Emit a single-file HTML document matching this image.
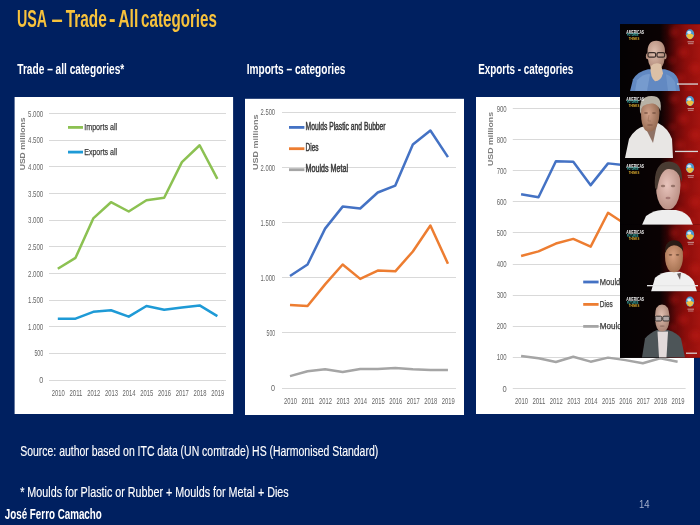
<!DOCTYPE html>
<html><head><meta charset="utf-8"><style>
html,body{margin:0;padding:0;background:#002060;width:700px;height:525px;overflow:hidden}
svg{display:block;filter:blur(0.4px)}
text{font-family:"Liberation Sans", sans-serif}
</style></head><body>
<svg width="700" height="525" viewBox="0 0 700 525">
<defs><linearGradient id="redg" x1="0" x2="80" y1="0" y2="0" gradientUnits="userSpaceOnUse">
<stop offset="0" stop-color="#040203"/><stop offset="0.5" stop-color="#0a0203"/><stop offset="0.6" stop-color="#300405"/><stop offset="0.7" stop-color="#680909"/><stop offset="0.82" stop-color="#8c0e0c"/><stop offset="1" stop-color="#a41410"/></linearGradient>
<filter id="bl" x="-50%" y="-50%" width="200%" height="200%"><feGaussianBlur stdDeviation="2.8"/></filter>
<filter id="bl1" x="-20%" y="-20%" width="140%" height="140%"><feGaussianBlur stdDeviation="0.7"/></filter>
<clipPath id="tileclip"><rect x="0" y="0" width="80" height="67"/></clipPath><radialGradient id="sk1" cx="0.4" cy="0.4" r="0.7"><stop offset="0" stop-color="#e0c0b0"/><stop offset="1" stop-color="#a88070"/></radialGradient>
<radialGradient id="sk2" cx="0.4" cy="0.45" r="0.7"><stop offset="0" stop-color="#d0a088"/><stop offset="1" stop-color="#8a6048"/></radialGradient>
<radialGradient id="sk3" cx="0.45" cy="0.45" r="0.7"><stop offset="0" stop-color="#e8c4bc"/><stop offset="1" stop-color="#b08478"/></radialGradient>
<radialGradient id="sk4" cx="0.45" cy="0.45" r="0.7"><stop offset="0" stop-color="#d8a080"/><stop offset="1" stop-color="#9a6848"/></radialGradient>
<radialGradient id="sk5" cx="0.45" cy="0.4" r="0.7"><stop offset="0" stop-color="#e0beb0"/><stop offset="1" stop-color="#a07a6a"/></radialGradient></defs>
<rect width="700" height="525" fill="#002060"/>
<text x="17.0" y="26.5" font-size="23.4" fill="#f7c23c" text-anchor="start" font-weight="bold" textLength="30.1" lengthAdjust="spacingAndGlyphs" >USA</text>
<text x="51.6" y="26.5" font-size="23.4" fill="#f7c23c" text-anchor="start" font-weight="bold" textLength="11.2" lengthAdjust="spacingAndGlyphs" >–</text>
<text x="65.69999999999999" y="26.5" font-size="23.4" fill="#f7c23c" text-anchor="start" font-weight="bold" textLength="41.1" lengthAdjust="spacingAndGlyphs" >Trade</text>
<text x="109.1" y="26.5" font-size="23.4" fill="#f7c23c" text-anchor="start" font-weight="bold" textLength="6.5" lengthAdjust="spacingAndGlyphs" >-</text>
<text x="118.19999999999999" y="26.5" font-size="23.4" fill="#f7c23c" text-anchor="start" font-weight="bold" textLength="20.1" lengthAdjust="spacingAndGlyphs" >All</text>
<text x="141.1" y="26.5" font-size="23.4" fill="#f7c23c" text-anchor="start" font-weight="bold" textLength="75.8" lengthAdjust="spacingAndGlyphs" >categories</text>
<text x="17.3" y="74" font-size="14.6" fill="#ffffff" text-anchor="start" font-weight="bold" textLength="107" lengthAdjust="spacingAndGlyphs" >Trade – all categories*</text>
<text x="246.7" y="74" font-size="14.6" fill="#ffffff" text-anchor="start" font-weight="bold" textLength="98.7" lengthAdjust="spacingAndGlyphs" >Imports – categories</text>
<text x="478.2" y="74" font-size="14.6" fill="#ffffff" text-anchor="start" font-weight="bold" textLength="95.1" lengthAdjust="spacingAndGlyphs" >Exports - categories</text>
<rect x="14.6" y="97" width="218.5" height="317" fill="#ffffff"/>
<line x1="49" y1="380.50" x2="226" y2="380.50" stroke="#d9d9d9" stroke-width="1.1"/>
<text x="43.2" y="383.1" font-size="9.4" fill="#666666" text-anchor="end" font-weight="normal" textLength="4" lengthAdjust="spacingAndGlyphs" >0</text>
<line x1="49" y1="353.50" x2="226" y2="353.50" stroke="#d9d9d9" stroke-width="1.1"/>
<text x="43.2" y="356.47" font-size="9.4" fill="#666666" text-anchor="end" font-weight="normal" textLength="8.8" lengthAdjust="spacingAndGlyphs" >500</text>
<line x1="49" y1="326.50" x2="226" y2="326.50" stroke="#d9d9d9" stroke-width="1.1"/>
<text x="43.2" y="329.84000000000003" font-size="9.4" fill="#666666" text-anchor="end" font-weight="normal" textLength="15.2" lengthAdjust="spacingAndGlyphs" >1.000</text>
<line x1="49" y1="300.50" x2="226" y2="300.50" stroke="#d9d9d9" stroke-width="1.1"/>
<text x="43.2" y="303.21000000000004" font-size="9.4" fill="#666666" text-anchor="end" font-weight="normal" textLength="15.2" lengthAdjust="spacingAndGlyphs" >1.500</text>
<line x1="49" y1="273.50" x2="226" y2="273.50" stroke="#d9d9d9" stroke-width="1.1"/>
<text x="43.2" y="276.58000000000004" font-size="9.4" fill="#666666" text-anchor="end" font-weight="normal" textLength="15.2" lengthAdjust="spacingAndGlyphs" >2.000</text>
<line x1="49" y1="246.50" x2="226" y2="246.50" stroke="#d9d9d9" stroke-width="1.1"/>
<text x="43.2" y="249.95" font-size="9.4" fill="#666666" text-anchor="end" font-weight="normal" textLength="15.2" lengthAdjust="spacingAndGlyphs" >2.500</text>
<line x1="49" y1="220.50" x2="226" y2="220.50" stroke="#d9d9d9" stroke-width="1.1"/>
<text x="43.2" y="223.32" font-size="9.4" fill="#666666" text-anchor="end" font-weight="normal" textLength="15.2" lengthAdjust="spacingAndGlyphs" >3.000</text>
<line x1="49" y1="193.50" x2="226" y2="193.50" stroke="#d9d9d9" stroke-width="1.1"/>
<text x="43.2" y="196.69" font-size="9.4" fill="#666666" text-anchor="end" font-weight="normal" textLength="15.2" lengthAdjust="spacingAndGlyphs" >3.500</text>
<line x1="49" y1="166.50" x2="226" y2="166.50" stroke="#d9d9d9" stroke-width="1.1"/>
<text x="43.2" y="170.05999999999997" font-size="9.4" fill="#666666" text-anchor="end" font-weight="normal" textLength="15.2" lengthAdjust="spacingAndGlyphs" >4.000</text>
<line x1="49" y1="140.50" x2="226" y2="140.50" stroke="#d9d9d9" stroke-width="1.1"/>
<text x="43.2" y="143.42999999999998" font-size="9.4" fill="#666666" text-anchor="end" font-weight="normal" textLength="15.2" lengthAdjust="spacingAndGlyphs" >4.500</text>
<line x1="49" y1="113.50" x2="226" y2="113.50" stroke="#d9d9d9" stroke-width="1.1"/>
<text x="43.2" y="116.79999999999998" font-size="9.4" fill="#666666" text-anchor="end" font-weight="normal" textLength="15.2" lengthAdjust="spacingAndGlyphs" >5.000</text>
<text x="58.199999999999996" y="395.6" font-size="9.0" fill="#666666" text-anchor="middle" font-weight="normal" textLength="13" lengthAdjust="spacingAndGlyphs" >2010</text>
<text x="75.93" y="395.6" font-size="9.0" fill="#666666" text-anchor="middle" font-weight="normal" textLength="13" lengthAdjust="spacingAndGlyphs" >2011</text>
<text x="93.66" y="395.6" font-size="9.0" fill="#666666" text-anchor="middle" font-weight="normal" textLength="13" lengthAdjust="spacingAndGlyphs" >2012</text>
<text x="111.39" y="395.6" font-size="9.0" fill="#666666" text-anchor="middle" font-weight="normal" textLength="13" lengthAdjust="spacingAndGlyphs" >2013</text>
<text x="129.12" y="395.6" font-size="9.0" fill="#666666" text-anchor="middle" font-weight="normal" textLength="13" lengthAdjust="spacingAndGlyphs" >2014</text>
<text x="146.85" y="395.6" font-size="9.0" fill="#666666" text-anchor="middle" font-weight="normal" textLength="13" lengthAdjust="spacingAndGlyphs" >2015</text>
<text x="164.58" y="395.6" font-size="9.0" fill="#666666" text-anchor="middle" font-weight="normal" textLength="13" lengthAdjust="spacingAndGlyphs" >2016</text>
<text x="182.31" y="395.6" font-size="9.0" fill="#666666" text-anchor="middle" font-weight="normal" textLength="13" lengthAdjust="spacingAndGlyphs" >2017</text>
<text x="200.04" y="395.6" font-size="9.0" fill="#666666" text-anchor="middle" font-weight="normal" textLength="13" lengthAdjust="spacingAndGlyphs" >2018</text>
<text x="217.77" y="395.6" font-size="9.0" fill="#666666" text-anchor="middle" font-weight="normal" textLength="13" lengthAdjust="spacingAndGlyphs" >2019</text>
<polyline points="57.80,268.79 75.53,257.82 93.26,218.41 110.99,202.22 128.72,211.49 146.45,200.19 164.18,197.80 181.91,162.11 199.64,145.28 217.37,178.89" fill="none" stroke="#8cc152" stroke-width="2.5" stroke-linejoin="round"/>
<polyline points="57.80,318.75 75.53,318.64 93.26,311.83 110.99,310.23 128.72,316.62 146.45,305.97 164.18,309.70 181.91,307.57 199.64,305.44 217.37,316.09" fill="none" stroke="#1e9ad6" stroke-width="2.5" stroke-linejoin="round"/>
<line x1="68" y1="127.39999999999999" x2="83" y2="127.39999999999999" stroke="#8cc152" stroke-width="2.8"/>
<text x="84.2" y="130.0" font-size="9.8" fill="#3a3a3a" text-anchor="start" font-weight="normal" textLength="33" lengthAdjust="spacingAndGlyphs" stroke="#3a3a3a" stroke-width="0.25">Imports all</text>
<line x1="68" y1="152.1" x2="83" y2="152.1" stroke="#1e9ad6" stroke-width="2.8"/>
<text x="84.2" y="154.7" font-size="9.8" fill="#3a3a3a" text-anchor="start" font-weight="normal" textLength="33" lengthAdjust="spacingAndGlyphs" stroke="#3a3a3a" stroke-width="0.25">Exports all</text>
<text transform="translate(25.3,170.3) rotate(-90)" x="0" y="0" font-size="8.0" fill="#7c7c7c" font-weight="bold" textLength="52.80000000000001" lengthAdjust="spacingAndGlyphs">USD millions</text>
<rect x="245" y="98.8" width="219" height="316.2" fill="#ffffff"/>
<line x1="282" y1="388.50" x2="456" y2="388.50" stroke="#d9d9d9" stroke-width="1.1"/>
<text x="275.1" y="390.9" font-size="9.4" fill="#666666" text-anchor="end" font-weight="normal" textLength="4" lengthAdjust="spacingAndGlyphs" >0</text>
<line x1="282" y1="332.50" x2="456" y2="332.50" stroke="#d9d9d9" stroke-width="1.1"/>
<text x="275.1" y="335.79999999999995" font-size="9.4" fill="#666666" text-anchor="end" font-weight="normal" textLength="8.5" lengthAdjust="spacingAndGlyphs" >500</text>
<line x1="282" y1="277.50" x2="456" y2="277.50" stroke="#d9d9d9" stroke-width="1.1"/>
<text x="275.1" y="280.7" font-size="9.4" fill="#666666" text-anchor="end" font-weight="normal" textLength="14.5" lengthAdjust="spacingAndGlyphs" >1.000</text>
<line x1="282" y1="222.50" x2="456" y2="222.50" stroke="#d9d9d9" stroke-width="1.1"/>
<text x="275.1" y="225.6" font-size="9.4" fill="#666666" text-anchor="end" font-weight="normal" textLength="14.5" lengthAdjust="spacingAndGlyphs" >1.500</text>
<line x1="282" y1="167.50" x2="456" y2="167.50" stroke="#d9d9d9" stroke-width="1.1"/>
<text x="275.1" y="170.5" font-size="9.4" fill="#666666" text-anchor="end" font-weight="normal" textLength="14.5" lengthAdjust="spacingAndGlyphs" >2.000</text>
<line x1="282" y1="112.50" x2="456" y2="112.50" stroke="#d9d9d9" stroke-width="1.1"/>
<text x="275.1" y="115.4" font-size="9.4" fill="#666666" text-anchor="end" font-weight="normal" textLength="14.5" lengthAdjust="spacingAndGlyphs" >2.500</text>
<text x="290.4" y="403.6" font-size="9.0" fill="#666666" text-anchor="middle" font-weight="normal" textLength="13" lengthAdjust="spacingAndGlyphs" >2010</text>
<text x="307.95" y="403.6" font-size="9.0" fill="#666666" text-anchor="middle" font-weight="normal" textLength="13" lengthAdjust="spacingAndGlyphs" >2011</text>
<text x="325.5" y="403.6" font-size="9.0" fill="#666666" text-anchor="middle" font-weight="normal" textLength="13" lengthAdjust="spacingAndGlyphs" >2012</text>
<text x="343.04999999999995" y="403.6" font-size="9.0" fill="#666666" text-anchor="middle" font-weight="normal" textLength="13" lengthAdjust="spacingAndGlyphs" >2013</text>
<text x="360.59999999999997" y="403.6" font-size="9.0" fill="#666666" text-anchor="middle" font-weight="normal" textLength="13" lengthAdjust="spacingAndGlyphs" >2014</text>
<text x="378.15" y="403.6" font-size="9.0" fill="#666666" text-anchor="middle" font-weight="normal" textLength="13" lengthAdjust="spacingAndGlyphs" >2015</text>
<text x="395.7" y="403.6" font-size="9.0" fill="#666666" text-anchor="middle" font-weight="normal" textLength="13" lengthAdjust="spacingAndGlyphs" >2016</text>
<text x="413.25" y="403.6" font-size="9.0" fill="#666666" text-anchor="middle" font-weight="normal" textLength="13" lengthAdjust="spacingAndGlyphs" >2017</text>
<text x="430.79999999999995" y="403.6" font-size="9.0" fill="#666666" text-anchor="middle" font-weight="normal" textLength="13" lengthAdjust="spacingAndGlyphs" >2018</text>
<text x="448.35" y="403.6" font-size="9.0" fill="#666666" text-anchor="middle" font-weight="normal" textLength="13" lengthAdjust="spacingAndGlyphs" >2019</text>
<polyline points="290.00,275.93 307.55,264.47 325.10,228.65 342.65,206.61 360.20,208.48 377.75,192.51 395.30,185.56 412.85,144.46 430.40,130.46 447.95,157.13" fill="none" stroke="#4472c4" stroke-width="2.5" stroke-linejoin="round"/>
<polyline points="290.00,304.91 307.55,306.01 325.10,284.41 342.65,264.47 360.20,278.90 377.75,270.53 395.30,271.30 412.85,251.46 430.40,225.57 447.95,263.69" fill="none" stroke="#ed7d31" stroke-width="2.5" stroke-linejoin="round"/>
<polyline points="290.00,376.10 307.55,371.25 325.10,369.27 342.65,372.02 360.20,368.94 377.75,368.94 395.30,367.94 412.85,369.27 430.40,369.93 447.95,369.93" fill="none" stroke="#a5a5a5" stroke-width="2.5" stroke-linejoin="round"/>
<line x1="289" y1="127.39999999999999" x2="304.4" y2="127.39999999999999" stroke="#4472c4" stroke-width="2.8"/>
<text x="305.59999999999997" y="130.1" font-size="10.6" fill="#3a3a3a" text-anchor="start" font-weight="normal" textLength="80" lengthAdjust="spacingAndGlyphs" stroke="#3a3a3a" stroke-width="0.5">Moulds Plastic and Bubber</text>
<line x1="289" y1="148.7" x2="304.4" y2="148.7" stroke="#ed7d31" stroke-width="2.8"/>
<text x="305.59999999999997" y="151.4" font-size="10.6" fill="#3a3a3a" text-anchor="start" font-weight="normal" textLength="13" lengthAdjust="spacingAndGlyphs" stroke="#3a3a3a" stroke-width="0.5">Dies</text>
<line x1="289" y1="169.7" x2="304.4" y2="169.7" stroke="#a5a5a5" stroke-width="2.8"/>
<text x="305.59999999999997" y="172.4" font-size="10.6" fill="#3a3a3a" text-anchor="start" font-weight="normal" textLength="42.5" lengthAdjust="spacingAndGlyphs" stroke="#3a3a3a" stroke-width="0.5">Moulds Metal</text>
<text transform="translate(258,169.9) rotate(-90)" x="0" y="0" font-size="8.0" fill="#7c7c7c" font-weight="bold" textLength="55.5" lengthAdjust="spacingAndGlyphs">USD millions</text>
<rect x="476" y="97" width="218" height="317" fill="#ffffff"/>
<line x1="512.8" y1="388.50" x2="685.6" y2="388.50" stroke="#d9d9d9" stroke-width="1.1"/>
<text x="506.7" y="391.5" font-size="9.4" fill="#666666" text-anchor="end" font-weight="normal" textLength="4.2" lengthAdjust="spacingAndGlyphs" >0</text>
<line x1="512.8" y1="357.50" x2="685.6" y2="357.50" stroke="#d9d9d9" stroke-width="1.1"/>
<text x="506.7" y="360.42" font-size="9.4" fill="#666666" text-anchor="end" font-weight="normal" textLength="10.0" lengthAdjust="spacingAndGlyphs" >100</text>
<line x1="512.8" y1="326.50" x2="685.6" y2="326.50" stroke="#d9d9d9" stroke-width="1.1"/>
<text x="506.7" y="329.34" font-size="9.4" fill="#666666" text-anchor="end" font-weight="normal" textLength="10.0" lengthAdjust="spacingAndGlyphs" >200</text>
<line x1="512.8" y1="295.50" x2="685.6" y2="295.50" stroke="#d9d9d9" stroke-width="1.1"/>
<text x="506.7" y="298.26" font-size="9.4" fill="#666666" text-anchor="end" font-weight="normal" textLength="10.0" lengthAdjust="spacingAndGlyphs" >300</text>
<line x1="512.8" y1="264.50" x2="685.6" y2="264.50" stroke="#d9d9d9" stroke-width="1.1"/>
<text x="506.7" y="267.18" font-size="9.4" fill="#666666" text-anchor="end" font-weight="normal" textLength="10.0" lengthAdjust="spacingAndGlyphs" >400</text>
<line x1="512.8" y1="232.50" x2="685.6" y2="232.50" stroke="#d9d9d9" stroke-width="1.1"/>
<text x="506.7" y="236.09999999999997" font-size="9.4" fill="#666666" text-anchor="end" font-weight="normal" textLength="10.0" lengthAdjust="spacingAndGlyphs" >500</text>
<line x1="512.8" y1="201.50" x2="685.6" y2="201.50" stroke="#d9d9d9" stroke-width="1.1"/>
<text x="506.7" y="205.01999999999995" font-size="9.4" fill="#666666" text-anchor="end" font-weight="normal" textLength="10.0" lengthAdjust="spacingAndGlyphs" >600</text>
<line x1="512.8" y1="170.50" x2="685.6" y2="170.50" stroke="#d9d9d9" stroke-width="1.1"/>
<text x="506.7" y="173.93999999999997" font-size="9.4" fill="#666666" text-anchor="end" font-weight="normal" textLength="10.0" lengthAdjust="spacingAndGlyphs" >700</text>
<line x1="512.8" y1="139.50" x2="685.6" y2="139.50" stroke="#d9d9d9" stroke-width="1.1"/>
<text x="506.7" y="142.85999999999996" font-size="9.4" fill="#666666" text-anchor="end" font-weight="normal" textLength="10.0" lengthAdjust="spacingAndGlyphs" >800</text>
<line x1="512.8" y1="108.50" x2="685.6" y2="108.50" stroke="#d9d9d9" stroke-width="1.1"/>
<text x="506.7" y="111.77999999999994" font-size="9.4" fill="#666666" text-anchor="end" font-weight="normal" textLength="10.0" lengthAdjust="spacingAndGlyphs" >900</text>
<text x="521.5" y="404.0" font-size="9.0" fill="#666666" text-anchor="middle" font-weight="normal" textLength="13" lengthAdjust="spacingAndGlyphs" >2010</text>
<text x="538.89" y="404.0" font-size="9.0" fill="#666666" text-anchor="middle" font-weight="normal" textLength="13" lengthAdjust="spacingAndGlyphs" >2011</text>
<text x="556.28" y="404.0" font-size="9.0" fill="#666666" text-anchor="middle" font-weight="normal" textLength="13" lengthAdjust="spacingAndGlyphs" >2012</text>
<text x="573.67" y="404.0" font-size="9.0" fill="#666666" text-anchor="middle" font-weight="normal" textLength="13" lengthAdjust="spacingAndGlyphs" >2013</text>
<text x="591.0600000000001" y="404.0" font-size="9.0" fill="#666666" text-anchor="middle" font-weight="normal" textLength="13" lengthAdjust="spacingAndGlyphs" >2014</text>
<text x="608.45" y="404.0" font-size="9.0" fill="#666666" text-anchor="middle" font-weight="normal" textLength="13" lengthAdjust="spacingAndGlyphs" >2015</text>
<text x="625.84" y="404.0" font-size="9.0" fill="#666666" text-anchor="middle" font-weight="normal" textLength="13" lengthAdjust="spacingAndGlyphs" >2016</text>
<text x="643.23" y="404.0" font-size="9.0" fill="#666666" text-anchor="middle" font-weight="normal" textLength="13" lengthAdjust="spacingAndGlyphs" >2017</text>
<text x="660.62" y="404.0" font-size="9.0" fill="#666666" text-anchor="middle" font-weight="normal" textLength="13" lengthAdjust="spacingAndGlyphs" >2018</text>
<text x="678.01" y="404.0" font-size="9.0" fill="#666666" text-anchor="middle" font-weight="normal" textLength="13" lengthAdjust="spacingAndGlyphs" >2019</text>
<polyline points="521.10,194.15 538.49,197.26 555.88,161.21 573.27,161.83 590.66,185.14 608.05,163.38 625.44,165.25 642.83,165.87 660.22,167.11 677.61,170.84" fill="none" stroke="#4472c4" stroke-width="2.5" stroke-linejoin="round"/>
<polyline points="521.10,256.00 538.49,251.34 555.88,243.57 573.27,238.91 590.66,246.68 608.05,212.80 625.44,224.30 642.83,226.78 660.22,228.34 677.61,229.89" fill="none" stroke="#ed7d31" stroke-width="2.5" stroke-linejoin="round"/>
<polyline points="521.10,355.89 538.49,358.25 555.88,361.98 573.27,356.70 590.66,361.67 608.05,357.63 625.44,360.12 642.83,363.23 660.22,358.25 677.61,361.67" fill="none" stroke="#a5a5a5" stroke-width="2.5" stroke-linejoin="round"/>
<line x1="583.2" y1="282.0" x2="598.6" y2="282.0" stroke="#4472c4" stroke-width="2.8"/>
<text x="599.8000000000001" y="284.59999999999997" font-size="9.8" fill="#3a3a3a" text-anchor="start" font-weight="normal" textLength="90" lengthAdjust="spacingAndGlyphs" stroke="#3a3a3a" stroke-width="0.25">Moulds Plastic and Rubber</text>
<line x1="583.2" y1="304.40000000000003" x2="598.6" y2="304.40000000000003" stroke="#ed7d31" stroke-width="2.8"/>
<text x="599.8000000000001" y="307.0" font-size="9.8" fill="#3a3a3a" text-anchor="start" font-weight="normal" textLength="13" lengthAdjust="spacingAndGlyphs" stroke="#3a3a3a" stroke-width="0.25">Dies</text>
<line x1="583.2" y1="326.40000000000003" x2="598.6" y2="326.40000000000003" stroke="#a5a5a5" stroke-width="2.8"/>
<text x="599.8000000000001" y="329.0" font-size="9.8" fill="#3a3a3a" text-anchor="start" font-weight="normal" textLength="48" lengthAdjust="spacingAndGlyphs" stroke="#3a3a3a" stroke-width="0.25">Moulds Metal</text>
<text transform="translate(493,166) rotate(-90)" x="0" y="0" font-size="8.0" fill="#7c7c7c" font-weight="bold" textLength="54" lengthAdjust="spacingAndGlyphs">USD millions</text>
<text x="20.2" y="456" font-size="15.0" fill="#ffffff" text-anchor="start" font-weight="normal" textLength="358" lengthAdjust="spacingAndGlyphs" stroke="#ffffff" stroke-width="0.15">Source: author based on ITC data (UN comtrade) HS (Harmonised Standard)</text>
<text x="20.2" y="496.8" font-size="15.0" fill="#ffffff" text-anchor="start" font-weight="normal" textLength="268.5" lengthAdjust="spacingAndGlyphs" stroke="#ffffff" stroke-width="0.15">* Moulds for Plastic or Rubber + Moulds for Metal + Dies</text>
<text x="4.8" y="519.3" font-size="14.8" fill="#ffffff" text-anchor="start" font-weight="bold" textLength="97" lengthAdjust="spacingAndGlyphs" >José Ferro Camacho</text>
<text x="638.9" y="507.6" font-size="10.5" fill="#a4b0cc" text-anchor="start" font-weight="normal" textLength="10.6" lengthAdjust="spacingAndGlyphs" >14</text>
<rect x="620" y="24.2" width="80" height="333.6" fill="#050203"/>
<g transform="translate(620,24.2)"><svg x="0" y="0" width="80" height="66.8" overflow="hidden">
<rect x="0" y="0" width="80" height="66.8" fill="url(#redg)"/>
<g filter="url(#bl)" opacity="0.45"><circle cx="54" cy="8" r="4" fill="#c41c16"/><circle cx="63" cy="28" r="5" fill="#c41c16"/><circle cx="75" cy="44" r="5.5" fill="#c41c16"/><circle cx="60" cy="54" r="4.5" fill="#c41c16"/><circle cx="77" cy="14" r="4" fill="#c41c16"/><circle cx="70" cy="64" r="4" fill="#c41c16"/><circle cx="52" cy="36" r="3" fill="#c41c16"/></g>
<g filter="url(#bl1)">
<path d="M10 67 L13 55 Q18 47 28 45 L45 45 Q55 47 58 55 L60 67 Z" fill="#6289c2"/>
<path d="M17 56 Q24 49 30 50 L27 67 L15 67 Z" fill="#86aad8" opacity="0.55"/>
<path d="M46 50 Q52 52 55 58 L56 67 L48 67 Z" fill="#86aad8" opacity="0.4"/>
<ellipse cx="27.5" cy="32" rx="1.6" ry="3" fill="#b89080"/>
<ellipse cx="45" cy="32" rx="1.6" ry="3" fill="#b89080"/>
<path d="M27.5 29 Q27 16.5 36.2 16.5 Q45.5 16.5 45 29 Q45 40 40.5 44 Q36.2 46.5 32 44 Q27.5 40 27.5 29 Z" fill="url(#sk1)"/>
<rect x="28" y="28.4" width="7.6" height="4.6" rx="1.5" fill="none" stroke="#3a2e2a" stroke-width="1.2"/>
<rect x="37" y="28.4" width="7.6" height="4.6" rx="1.5" fill="none" stroke="#3a2e2a" stroke-width="1.2"/>
<path d="M30.5 42 Q35 37.5 41 40 L43 49 Q41 57 35 57 Q30 53 30.5 42 Z" fill="#dcc0a6"/>
<rect x="57" y="59.2" width="21" height="1.3" fill="#d8d8d8"/>
</g>
<text x="6.3" y="9.6" font-size="4.6" font-weight="bold" fill="#f0f0f0" textLength="17.8" lengthAdjust="spacingAndGlyphs">AMERICAS</text><text x="7" y="12.3" font-size="2.6" font-weight="bold" fill="#40b8b0" textLength="11.5" lengthAdjust="spacingAndGlyphs">FUTURES</text><text x="8.7" y="15.6" font-size="2.6" font-weight="bold" fill="#e0b030" textLength="10.6" lengthAdjust="spacingAndGlyphs">THINKS</text><ellipse cx="70" cy="10" rx="4.2" ry="5" fill="#4a98d0"/><path d="M66.2 11 Q70 7.5 73.8 11 Q72 15 70 15 Q68 15 66.2 11 Z" fill="#f0c040"/><ellipse cx="69.2" cy="8.2" rx="2" ry="1.6" fill="#f4f4f4" opacity="0.85"/><rect x="67.5" y="17" width="6.5" height="1.2" fill="#e0d0d0" opacity="0.6"/><rect x="68" y="18.8" width="5.5" height="1.2" fill="#e0d0d0" opacity="0.5"/>
</svg></g>
<g transform="translate(620,91.0)"><svg x="0" y="0" width="80" height="67.0" overflow="hidden">
<rect x="0" y="0" width="80" height="67.0" fill="url(#redg)"/>
<g filter="url(#bl)" opacity="0.45"><circle cx="54" cy="8" r="4" fill="#c41c16"/><circle cx="63" cy="28" r="5" fill="#c41c16"/><circle cx="75" cy="44" r="5.5" fill="#c41c16"/><circle cx="60" cy="54" r="4.5" fill="#c41c16"/><circle cx="77" cy="14" r="4" fill="#c41c16"/><circle cx="70" cy="64" r="4" fill="#c41c16"/><circle cx="52" cy="36" r="3" fill="#c41c16"/></g>
<g filter="url(#bl1)">
<path d="M5 67 L9 48 Q15 37 25 35 L38 32 Q48 37 52 48 L53 67 Z" fill="#e8e6e4"/>
<path d="M26 38 L37 33 L33 52 Z" fill="#6a4030" opacity="0.7"/>
<path d="M21 22 Q21 8 30 8 Q39 9 39.5 22 Q39 34 34 39 Q29 42 25 39 Q21 34 21 22 Z" fill="url(#sk2)"/>
<path d="M20 21 Q19 9 25 6.5 Q31 4 37 6 Q42 9 40.5 20 Q38 13 33 12.5 Q27 12 23 15 Q21 17 21 23 Z" fill="#b8b2a6"/>
<ellipse cx="26" cy="22" rx="2" ry="1" fill="#6a4838" opacity="0.6"/>
<ellipse cx="34" cy="22" rx="2" ry="1" fill="#6a4838" opacity="0.6"/>
<path d="M29 24 L28 30 L31 30" fill="none" stroke="#8a6048" stroke-width="0.7" opacity="0.6"/>
<ellipse cx="30" cy="34" rx="3" ry="1" fill="#7a5040" opacity="0.5"/>
<rect x="55" y="59.8" width="23" height="1.3" fill="#d8d8d8"/>
</g>
<text x="6.3" y="9.6" font-size="4.6" font-weight="bold" fill="#f0f0f0" textLength="17.8" lengthAdjust="spacingAndGlyphs">AMERICAS</text><text x="7" y="12.3" font-size="2.6" font-weight="bold" fill="#40b8b0" textLength="11.5" lengthAdjust="spacingAndGlyphs">FUTURES</text><text x="8.7" y="15.6" font-size="2.6" font-weight="bold" fill="#e0b030" textLength="10.6" lengthAdjust="spacingAndGlyphs">THINKS</text><ellipse cx="70" cy="10" rx="4.2" ry="5" fill="#4a98d0"/><path d="M66.2 11 Q70 7.5 73.8 11 Q72 15 70 15 Q68 15 66.2 11 Z" fill="#f0c040"/><ellipse cx="69.2" cy="8.2" rx="2" ry="1.6" fill="#f4f4f4" opacity="0.85"/><rect x="67.5" y="17" width="6.5" height="1.2" fill="#e0d0d0" opacity="0.6"/><rect x="68" y="18.8" width="5.5" height="1.2" fill="#e0d0d0" opacity="0.5"/>
</svg></g>
<g transform="translate(620,158.0)"><svg x="0" y="0" width="80" height="66.8" overflow="hidden">
<rect x="0" y="0" width="80" height="66.8" fill="url(#redg)"/>
<g filter="url(#bl)" opacity="0.45"><circle cx="54" cy="8" r="4" fill="#c41c16"/><circle cx="63" cy="28" r="5" fill="#c41c16"/><circle cx="75" cy="44" r="5.5" fill="#c41c16"/><circle cx="60" cy="54" r="4.5" fill="#c41c16"/><circle cx="77" cy="14" r="4" fill="#c41c16"/><circle cx="70" cy="64" r="4" fill="#c41c16"/><circle cx="52" cy="36" r="3" fill="#c41c16"/></g>
<g filter="url(#bl1)">
<path d="M22 67 L26 58 Q34 52 42 52 L56 52 Q66 54 70 60 L73 67 Z" fill="#eeeeee"/>
<path d="M36 27 Q36 7 48 7 Q60 7 60.5 27 Q60 44 53 50 Q48 53 43 50 Q36 44 36 27 Z" fill="url(#sk3)"/>
<path d="M35 30 Q33 4 49 3.5 Q63 4 62 24 Q58 10 48 11 Q40 12 37 32 Z" fill="#4a3a32"/>
<ellipse cx="43" cy="28" rx="2.2" ry="1.2" fill="#7a5a50" opacity="0.7"/>
<ellipse cx="53" cy="28" rx="2.2" ry="1.2" fill="#7a5a50" opacity="0.7"/>
<ellipse cx="48" cy="40" rx="2.5" ry="1.3" fill="#8a5a58" opacity="0.6"/>
</g>
<text x="6.3" y="9.6" font-size="4.6" font-weight="bold" fill="#f0f0f0" textLength="17.8" lengthAdjust="spacingAndGlyphs">AMERICAS</text><text x="7" y="12.3" font-size="2.6" font-weight="bold" fill="#40b8b0" textLength="11.5" lengthAdjust="spacingAndGlyphs">FUTURES</text><text x="8.7" y="15.6" font-size="2.6" font-weight="bold" fill="#e0b030" textLength="10.6" lengthAdjust="spacingAndGlyphs">THINKS</text><ellipse cx="70" cy="10" rx="4.2" ry="5" fill="#4a98d0"/><path d="M66.2 11 Q70 7.5 73.8 11 Q72 15 70 15 Q68 15 66.2 11 Z" fill="#f0c040"/><ellipse cx="69.2" cy="8.2" rx="2" ry="1.6" fill="#f4f4f4" opacity="0.85"/><rect x="67.5" y="17" width="6.5" height="1.2" fill="#e0d0d0" opacity="0.6"/><rect x="68" y="18.8" width="5.5" height="1.2" fill="#e0d0d0" opacity="0.5"/>
</svg></g>
<g transform="translate(620,224.8)"><svg x="0" y="0" width="80" height="66.8" overflow="hidden">
<rect x="0" y="0" width="80" height="66.8" fill="url(#redg)"/>
<g filter="url(#bl)" opacity="0.45"><circle cx="54" cy="8" r="4" fill="#c41c16"/><circle cx="63" cy="28" r="5" fill="#c41c16"/><circle cx="75" cy="44" r="5.5" fill="#c41c16"/><circle cx="60" cy="54" r="4.5" fill="#c41c16"/><circle cx="77" cy="14" r="4" fill="#c41c16"/><circle cx="70" cy="64" r="4" fill="#c41c16"/><circle cx="52" cy="36" r="3" fill="#c41c16"/></g>
<g filter="url(#bl1)">
<path d="M31 67 L35 53 Q42 47 50 47 L60 47 Q70 50 74 57 L77 67 Z" fill="#f0f0f0"/>
<path d="M45 31 Q45 17 54 17 Q63 17 63 31 Q63 42 58 46.5 Q54 48.5 50 46.5 Q45 42 45 31 Z" fill="url(#sk4)"/>
<path d="M44.8 27 Q45 15.5 54 15.5 Q63 15.5 63.2 27 Q61 21 54 20.5 Q47.5 21 45.5 28 Z" fill="#2a1a12"/>
<ellipse cx="50.5" cy="30" rx="1.8" ry="0.9" fill="#5a3a2a" opacity="0.7"/>
<ellipse cx="57.5" cy="30" rx="1.8" ry="0.9" fill="#5a3a2a" opacity="0.7"/>
<path d="M57 49 L61 48 L60 55 Z" fill="#302020" opacity="0.7"/>
<rect x="27" y="60.2" width="51" height="1.3" fill="#e6e6e6"/>
</g>
<text x="6.3" y="9.6" font-size="4.6" font-weight="bold" fill="#f0f0f0" textLength="17.8" lengthAdjust="spacingAndGlyphs">AMERICAS</text><text x="7" y="12.3" font-size="2.6" font-weight="bold" fill="#40b8b0" textLength="11.5" lengthAdjust="spacingAndGlyphs">FUTURES</text><text x="8.7" y="15.6" font-size="2.6" font-weight="bold" fill="#e0b030" textLength="10.6" lengthAdjust="spacingAndGlyphs">THINKS</text><ellipse cx="70" cy="10" rx="4.2" ry="5" fill="#4a98d0"/><path d="M66.2 11 Q70 7.5 73.8 11 Q72 15 70 15 Q68 15 66.2 11 Z" fill="#f0c040"/><ellipse cx="69.2" cy="8.2" rx="2" ry="1.6" fill="#f4f4f4" opacity="0.85"/><rect x="67.5" y="17" width="6.5" height="1.2" fill="#e0d0d0" opacity="0.6"/><rect x="68" y="18.8" width="5.5" height="1.2" fill="#e0d0d0" opacity="0.5"/>
</svg></g>
<g transform="translate(620,291.6)"><svg x="0" y="0" width="80" height="66.2" overflow="hidden">
<rect x="0" y="0" width="80" height="66.2" fill="url(#redg)"/>
<g filter="url(#bl)" opacity="0.45"><circle cx="54" cy="8" r="4" fill="#c41c16"/><circle cx="63" cy="28" r="5" fill="#c41c16"/><circle cx="75" cy="44" r="5.5" fill="#c41c16"/><circle cx="60" cy="54" r="4.5" fill="#c41c16"/><circle cx="77" cy="14" r="4" fill="#c41c16"/><circle cx="70" cy="64" r="4" fill="#c41c16"/><circle cx="52" cy="36" r="3" fill="#c41c16"/></g>
<g filter="url(#bl1)">
<path d="M22 66 L25 47 Q30 41 37 38.5 L48 38.5 Q57 41 61 47 L65 66 Z" fill="#4d5458"/>
<path d="M37.5 40 L48 40 L46.5 66 L39 66 Z" fill="#e2dada"/>
<path d="M35 25 Q35 13 42 13 Q49 13 49.5 25 Q49.5 35 46 39 Q42 41 38.5 39 Q35 35 35 25 Z" fill="url(#sk5)"/>
<rect x="35.2" y="24.6" width="6.6" height="4.8" rx="1.2" fill="#b0a8a8" stroke="#2a2a2a" stroke-width="1" opacity="0.9"/>
<rect x="42.8" y="24.6" width="6.6" height="4.8" rx="1.2" fill="#b0a8a8" stroke="#2a2a2a" stroke-width="1" opacity="0.9"/>
<ellipse cx="42.2" cy="34.5" rx="2.6" ry="0.9" fill="#7a5a50" opacity="0.5"/>
<rect x="66" y="61" width="11" height="1.2" fill="#dddddd"/>
</g>
<text x="6.3" y="9.6" font-size="4.6" font-weight="bold" fill="#f0f0f0" textLength="17.8" lengthAdjust="spacingAndGlyphs">AMERICAS</text><text x="7" y="12.3" font-size="2.6" font-weight="bold" fill="#40b8b0" textLength="11.5" lengthAdjust="spacingAndGlyphs">FUTURES</text><text x="8.7" y="15.6" font-size="2.6" font-weight="bold" fill="#e0b030" textLength="10.6" lengthAdjust="spacingAndGlyphs">THINKS</text><ellipse cx="70" cy="10" rx="4.2" ry="5" fill="#4a98d0"/><path d="M66.2 11 Q70 7.5 73.8 11 Q72 15 70 15 Q68 15 66.2 11 Z" fill="#f0c040"/><ellipse cx="69.2" cy="8.2" rx="2" ry="1.6" fill="#f4f4f4" opacity="0.85"/><rect x="67.5" y="17" width="6.5" height="1.2" fill="#e0d0d0" opacity="0.6"/><rect x="68" y="18.8" width="5.5" height="1.2" fill="#e0d0d0" opacity="0.5"/>
</svg></g>
</svg></body></html>
